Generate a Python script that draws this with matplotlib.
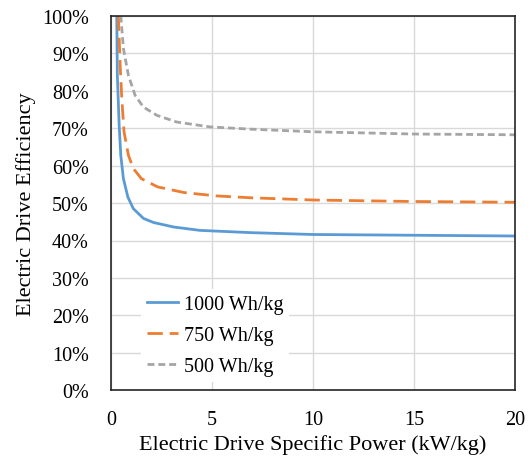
import matplotlib.pyplot as plt
from matplotlib.ticker import FuncFormatter, MultipleLocator

# specific power (kW/kg) vs drive efficiency (fraction) for each battery pack
power_1000 = [0.28, 0.31, 0.40, 0.48, 0.61, 0.83, 1.1, 1.6, 2.1, 3.1, 4.4, 6.9, 10.0, 15.0, 20.0]
eff_1000 = [1.00, 0.84, 0.707, 0.627, 0.565, 0.516, 0.485, 0.459, 0.448, 0.436, 0.427, 0.421, 0.416, 0.414, 0.412]

power_750 = [0.36, 0.45, 0.53, 0.64, 0.86, 1.1, 1.5, 2.3, 3.6, 5.2, 6.9, 10.0, 15.0, 20.0]
eff_750 = [1.00, 0.867, 0.779, 0.69, 0.627, 0.592, 0.565, 0.543, 0.528, 0.519, 0.514, 0.508, 0.504, 0.502]

power_500 = [0.48, 0.61, 0.86, 1.19, 1.6, 2.26, 3.25, 4.9, 6.9, 10.0, 15.0, 20.0]
eff_500 = [1.00, 0.912, 0.84, 0.787, 0.756, 0.734, 0.716, 0.703, 0.697, 0.69, 0.684, 0.682]

labels = ["1000 Wh/kg", "750 Wh/kg", "500 Wh/kg"]

plt.rcParams["font.family"] = ["Liberation Serif", "DejaVu Serif"]

fig = plt.figure(figsize=(5.29, 4.60), dpi=100)
ax = fig.add_axes([0.21, 0.149, 0.7635, 0.815])

ax.plot(power_1000, eff_1000, color="#5B9BD5", lw=2.0, label=labels[0])
ax.plot(power_750, eff_750, color="#ED7D31", lw=2.0, dashes=(5.5, 2.5), label=labels[1])
ax.plot(power_500, eff_500, color="#A5A5A5", lw=2.0, dashes=(2.5, 1.4), label=labels[2])

ax.set_xlim(0, 20)
ax.set_ylim(0, 1)
ax.xaxis.set_major_locator(MultipleLocator(5))
ax.yaxis.set_major_locator(MultipleLocator(0.1))
ax.yaxis.set_major_formatter(FuncFormatter(lambda v, _: f"{v * 100:.0f}%"))
ax.grid(True, color="#D9D9D9", lw=1.0)
ax.set_axisbelow(True)
ax.tick_params(length=0, labelsize=14.5)
ax.tick_params(axis="y", pad=16)
ax.tick_params(axis="x", pad=14)
for s in ax.spines.values():
    s.set_color("#262626")
    s.set_linewidth(1.2)

ax.set_xlabel("Electric Drive Specific Power (kW/kg)", fontsize=16, labelpad=4)
ax.set_ylabel("Electric Drive Efficiency", fontsize=16, labelpad=4)

leg = ax.legend(loc="lower left", bbox_to_anchor=(0.05, -0.005), frameon=True,
                fontsize=14.5, handlelength=1.5, handletextpad=0.3,
                labelspacing=0.6, borderpad=0.3)
leg.get_frame().set_edgecolor("none")
leg.get_frame().set_facecolor("white")
leg.get_frame().set_alpha(1.0)

fig.savefig("out.png", dpi=100)
